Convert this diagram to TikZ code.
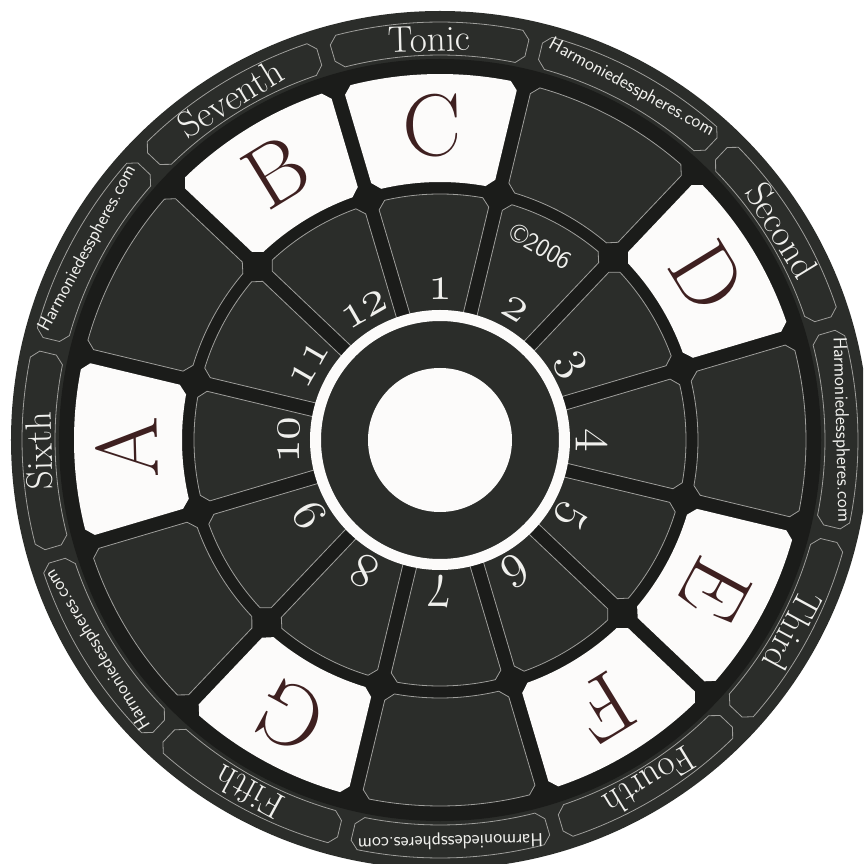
\documentclass[tikz,border=0pt]{standalone}
\usepackage{tikz}
\usetikzlibrary{calc}

\definecolor{discgray}{RGB}{43,45,42}
\definecolor{groovegray}{RGB}{27,28,26}
\definecolor{rimline}{RGB}{158,158,155}
\definecolor{keywhite}{RGB}{252,251,250}
\definecolor{letterbrown}{RGB}{62,32,32}
\definecolor{labelwhite}{RGB}{240,240,237}

% one cell of a ring: centre angle, inner radius, outer radius, style
\newcommand\sectorcell[4]{%
  \pgfmathsetmacro\ca{#1}%
  \pgfmathsetmacro\ri{#2}%
  \pgfmathsetmacro\ro{#3}%
  \pgfmathsetmacro\riP{\ri+8}%
  \pgfmathsetmacro\roM{\ro-8}%
  \pgfmathsetmacro\aA{\ca-15+asin(7/\ri)+8/\ri*57.3}%
  \pgfmathsetmacro\aB{\ca+15-asin(7/\ri)-8/\ri*57.3}%
  \pgfmathsetmacro\aC{\ca+15-asin(7/\riP)}%
  \pgfmathsetmacro\aD{\ca+15-asin(7/\roM)}%
  \pgfmathsetmacro\aE{\ca+15-asin(7/\ro)-8/\ro*57.3}%
  \pgfmathsetmacro\aF{\ca-15+asin(7/\ro)+8/\ro*57.3}%
  \pgfmathsetmacro\aG{\ca-15+asin(7/\roM)}%
  \pgfmathsetmacro\aH{\ca-15+asin(7/\riP)}%
  \path[#4] (\aA:\ri) arc[start angle=\aA, end angle=\aB, radius=\ri]
    -- (\aC:\riP) -- (\aD:\roM) -- (\aE:\ro)
    arc[start angle=\aE, end angle=\aF, radius=\ro]
    -- (\aG:\roM) -- (\aH:\riP) -- cycle;
}

\begin{document}
\begin{tikzpicture}[
  x=1pt, y=1pt,
  cellbox/.style={fill=discgray, draw=rimline, line width=0.8pt},
  keybox/.style={fill=keywhite},
  tagbox/.style={draw=rimline, line width=0.8pt},
  keyletter/.style={text=letterbrown, font=\fontsize{88}{88}\selectfont},
  degreelabel/.style={text=labelwhite, font=\fontsize{37}{37}\selectfont},
  weblabel/.style={text=labelwhite, font=\sffamily\fontsize{19}{19}\selectfont},
  stepnum/.style={text=labelwhite, scale=1.95,
    font=\fontsize{24.88}{25}\usefont{OML}{cmm}{m}{it}}
]
  \useasboundingbox (-440,-424) rectangle (423,440);
  \clip (-440,-424) rectangle (423,440);

  % Disc and grooves
  \fill[discgray] (0,0) circle[radius=429];
  \fill[groovegray] (0,0) circle[radius=381];

  % Label band
  \foreach \i in {0,...,11} {
    \pgfmathsetmacro\ang{91.5-30*\i}
    \sectorcell{\ang}{385}{418}{tagbox}
  }

  % Outer ring: keys
  \foreach \i/\key/\degname in {0/C/Tonic, 2/D/Second, 4/E/Third, 5/F/Fourth,
                                7/G/Fifth, 9/A/Sixth, 11/B/Seventh} {
    \pgfmathsetmacro\ang{91.5-30*\i}
    \sectorcell{\ang}{258}{366}{keybox}
    \node[keyletter, rotate=\ang-90] (key\key) at (\ang:314) {\key};
    \node[degreelabel, rotate=\ang-90] (deg\key) at (\ang:401) {\degname};
  }

  % Outer ring: blanks
  \foreach \i in {1,3,6,8,10} {
    \pgfmathsetmacro\ang{91.5-30*\i}
    \sectorcell{\ang}{258}{366}{cellbox}
    \node[weblabel, rotate=\ang-90] (web\i) at (\ang:401) {Harmoniedesspheres.com};
  }

  % Inner ring
  \foreach \i in {0,...,11} {
    \pgfmathsetmacro\ang{91.5-30*\i}
    \sectorcell{\ang}{122}{246}{cellbox}
  }
  \foreach \n in {1,...,12} {
    \pgfmathsetmacro\ang{90-30*(\n-1)}
    \node[stepnum, rotate=\ang-90] (num\n) at (\ang:151) {\n};
  }
  \node[labelwhite, font=\sffamily\fontsize{26}{26}\selectfont, rotate=-30]
    (copy) at (62.5:218) {\textcopyright2006};

  % Hub
  \fill[discgray] (0,0) circle[radius=120];
  \draw[keywhite, line width=11] (0,0) circle[radius=124.5];
  \fill[keywhite] (0,0) circle[radius=72];
\end{tikzpicture}
\end{document}
